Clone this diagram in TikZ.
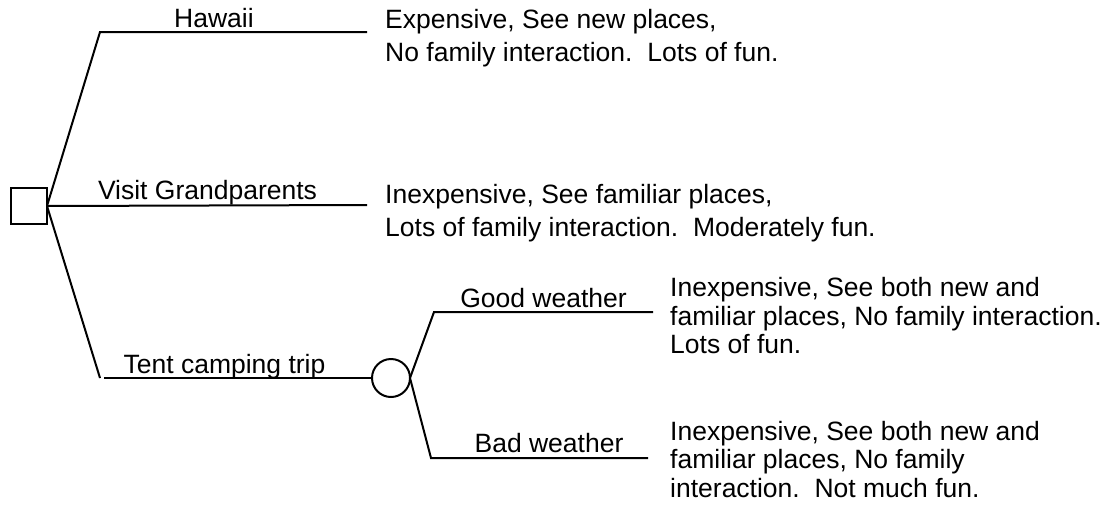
\documentclass[tikz,border=0pt]{standalone}
\usepackage{fontspec}
\setmainfont{Liberation Sans}
\begin{document}
\begin{tikzpicture}[x=1pt,y=-1pt,
  branch/.style={line width=2pt},
  brlabel/.style={anchor=base, inner sep=0pt, font=\fontsize{26.5}{33}\selectfont},
  % multi-line outcome texts are placed by the baseline of their last line
  outcome/.style={anchor=base west, inner sep=0pt, align=left, font=\fontsize{26.5}{33}\selectfont},
  outcomeb/.style={outcome, font=\fontsize{26.5}{28.5}\selectfont}]
\useasboundingbox (0,0) rectangle (1105,507);

% decision and chance nodes
\node[draw, line width=2pt, minimum size=36pt, inner sep=0pt, outer sep=0pt] (choice) at (29,206) {};
\node[draw, circle, line width=2pt, minimum size=38pt, inner sep=0pt, outer sep=0pt] (chance) at (391,378) {};

% branch corners and ends
\coordinate (hawA) at (100,32);
\coordinate (hawB) at (367,32);
\coordinate (visB) at (367,205);
\coordinate (tentA) at (100,378);
\coordinate (tentB) at (104,378);
\coordinate (goodA) at (434,312);
\coordinate (goodB) at (653,312);
\coordinate (badA) at (431,458);
\coordinate (badB) at (648,458);

% branches
\draw[branch] (choice.east) -- (hawA) -- (hawB);
\draw[branch] (choice.east) -- (visB);
\draw[branch] (choice.east) -- (tentA);
\draw[branch] (tentB) -- (chance.west);
\draw[branch] (chance.east) -- (goodA) -- (goodB);
\draw[branch] (chance.east) -- (badA) -- (badB);

% branch labels
\node[brlabel] (lhaw) at (214,27.3) {Hawaii};
\node[brlabel] (lvis) at (207.5,199.5) {Visit Grandparents};
\node[brlabel] (ltent) at (224.5,373) {Tent camping trip};
\node[brlabel] (lgood) at (543.5,307) {Good weather};
\node[brlabel] (lbad) at (549,452) {Bad weather};

% outcomes
\node[outcome] (ohaw) at (385,61.5) {Expensive, See new places,\\No family interaction.\ \ Lots of fun.};
\node[outcome] (ovis) at (385,236.5) {Inexpensive, See familiar places,\\Lots of family interaction.\ \ Moderately fun.};
\node[outcomeb] (ogood) at (670,353.5) {Inexpensive, See both new and\\familiar places, No family interaction.\\Lots of fun.};
\node[outcomeb] (obad) at (670,497) {Inexpensive, See both new and\\familiar places, No family\\interaction.\ \ Not much fun.};
\end{tikzpicture}
\end{document}
